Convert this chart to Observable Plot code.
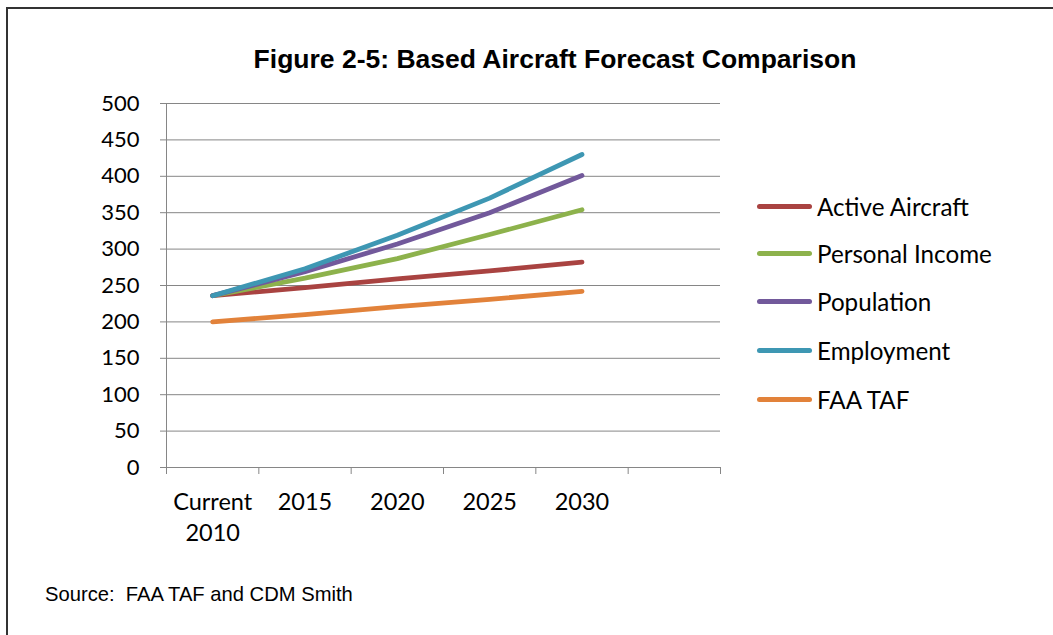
<!DOCTYPE html>
<html>
<head>
<meta charset="utf-8">
<script src="https://cdn.jsdelivr.net/npm/d3@7"></script>
<script src="https://cdn.jsdelivr.net/npm/@observablehq/plot@0.6"></script>
<style>
  html, body { margin: 0; padding: 0; background: #fff; }
  #page { position: relative; width: 1053px; height: 635px; overflow: hidden; background: #fff; }
  #frame { position: absolute; left: 6px; top: 7px; width: 1200px; height: 800px; border-left: 2px solid #333; border-top: 2px solid #333; }
  #title { position: absolute; left: 0; width: 1110px; top: 44px; text-align: center; font: bold 26.5px "Liberation Sans", Arial, sans-serif; color: #000; white-space: nowrap; }
  #chart { position: absolute; left: 0; top: 0; }
  #legend { position: absolute; left: 757px; top: 0; font-family: Lato, sans-serif; font-size: 24.2px; color: #000; }
  .item { position: absolute; left: 0; white-space: nowrap; display: flex; align-items: center; height: 30px; }
  .sw { width: 55px; height: 5px; border-radius: 3px; margin-right: 5px; }
  #source { position: absolute; left: 45px; top: 583px; font: 20.2px "Liberation Sans", Arial, sans-serif; color: #000; white-space: nowrap; }
</style>
</head>
<body>
<div id="page">
  <div id="frame"></div>
  <div id="title">Figure 2-5: Based Aircraft Forecast Comparison</div>
  <div id="chart"></div>
  <div id="legend"></div>
  <div id="source">Source:&nbsp; FAA TAF and CDM Smith</div>
</div>
<script>
// Categories (last one is an empty slot on the axis)
const categories = ["Current\n2010", "2015", "2020", "2025", "2030", ""];
const seriesNames = ["Active Aircraft", "Personal Income", "Population", "Employment", "FAA TAF"];
const seriesColors = ["#A94341", "#8DB24C", "#72599B", "#3E97B3", "#E2823A"];
const activeAircraft = [236, 247, 259, 270, 282];
const personalIncome = [236, 260, 287, 320, 354];
const population = [236, 269, 307, 350, 401];
const employment = [236, 273, 319, 370, 430];
const faaTaf = [200, 210, 221, 231, 242];
const yTicks = [0, 50, 100, 150, 200, 250, 300, 350, 400, 450, 500];

const seriesValues = [activeAircraft, personalIncome, population, employment, faaTaf];
const data = [];
seriesNames.forEach((name, s) => {
  seriesValues[s].forEach((v, i) => data.push({series: name, idx: i + 0.5, value: v}));
});

const grid = "#868686";
const chart = Plot.plot({
  width: 1053,
  height: 635,
  marginLeft: 166,
  marginRight: 333,
  marginTop: 103,
  marginBottom: 168,
  style: {background: "transparent", fontFamily: "Lato, sans-serif", fontSize: "22px", color: "#000"},
  x: {type: "linear", domain: [0, categories.length]},
  y: {domain: [0, 500]},
  color: {domain: seriesNames, range: seriesColors},
  marks: [
    Plot.gridY(yTicks, {stroke: grid, strokeOpacity: 1, strokeWidth: 1}),
    Plot.ruleX([0], {stroke: grid, strokeWidth: 1}),
    Plot.ruleY([0], {stroke: grid, strokeWidth: 1}),
    Plot.axisY({ticks: yTicks, tickSize: 6, tickPadding: 21, stroke: grid, label: null, fill: "#000", fontSize: 22}),
    Plot.axisX({ticks: d3.range(categories.length + 1), tickSize: 7, tickFormat: () => "", stroke: grid, label: null}),
    Plot.axisX({ticks: categories.map((c, i) => i + 0.5), tickSize: 0, tickPadding: 20, lineHeight: 1.32, fontSize: 23.5,
      tickFormat: (d) => categories[Math.floor(d)], label: null, fill: "#000"}),
    Plot.line(data, {x: "idx", y: "value", z: "series", stroke: "series", strokeWidth: 4.8,
      strokeLinecap: "round", strokeLinejoin: "round"})
  ]
});
document.getElementById("chart").appendChild(chart);

// Legend
const legend = document.getElementById("legend");
const rowY = [206, 253, 301, 350, 399];
seriesNames.forEach((name, i) => {
  const item = document.createElement("div");
  item.className = "item";
  item.style.top = (rowY[i] - 15) + "px";
  const sw = document.createElement("div");
  sw.className = "sw";
  sw.style.background = seriesColors[i];
  const label = document.createElement("span");
  label.textContent = name;
  item.appendChild(sw);
  item.appendChild(label);
  legend.appendChild(item);
});
</script>
</body>
</html>
